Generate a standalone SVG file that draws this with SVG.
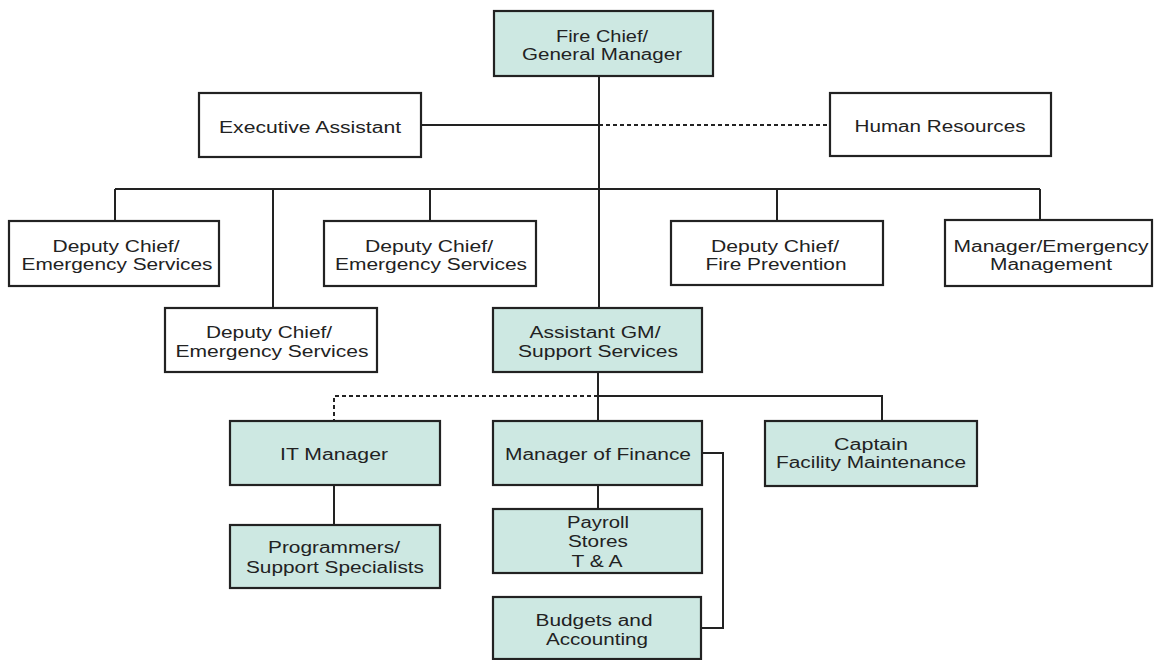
<svg xmlns="http://www.w3.org/2000/svg" width="1154" height="660" viewBox="0 0 1154 660">
<style>
.box{fill:#ffffff;stroke:#222;stroke-width:2.2}
.tl{fill:#cde8e2;stroke:#222;stroke-width:2.2}
text{font-family:"Liberation Sans",Arial,sans-serif;font-size:16px;fill:#222;text-anchor:middle}
.c line,.c path{stroke:#222;stroke-width:2;fill:none}
.c .d{stroke-dasharray:4 3}
</style>
<rect width="1154" height="660" fill="#ffffff"/>
<g class="c" id="connectors">
<line x1="599" y1="77" x2="599" y2="308"/>
<line x1="421" y1="125" x2="599" y2="125"/>
<line class="d" x1="599" y1="125" x2="830" y2="125"/>
<line x1="115" y1="189" x2="1040" y2="189"/>
<line x1="115" y1="189" x2="115" y2="221"/>
<line x1="273" y1="189" x2="273" y2="308"/>
<line x1="430" y1="189" x2="430" y2="221"/>
<line x1="777" y1="189" x2="777" y2="221"/>
<line x1="1040" y1="189" x2="1040" y2="220"/>
<line x1="598" y1="372" x2="598" y2="421"/>
<path class="d" d="M598 396 H334 V421"/>
<path d="M598 396 H882 V421"/>
<line x1="334" y1="485" x2="334" y2="525"/>
<line x1="598" y1="485" x2="598" y2="509"/>
<path d="M702 453 H723 V628 H701"/>
</g>
<g id="fire-chief"><rect class="tl" x="494" y="11" width="219" height="65"/>
<text x="602" y="42" textLength="92" lengthAdjust="spacingAndGlyphs">Fire Chief/</text>
<text x="602" y="60" textLength="160" lengthAdjust="spacingAndGlyphs">General Manager</text></g>
<g id="executive-assistant"><rect class="box" x="199" y="93" width="222" height="64"/>
<text x="310" y="133" textLength="182" lengthAdjust="spacingAndGlyphs">Executive Assistant</text></g>
<g id="human-resources"><rect class="box" x="830" y="93" width="221" height="63"/>
<text x="940" y="132" textLength="171" lengthAdjust="spacingAndGlyphs">Human Resources</text></g>
<g id="deputy-chief-1"><rect class="box" x="9" y="221" width="210" height="65"/>
<text x="116" y="252" textLength="127" lengthAdjust="spacingAndGlyphs">Deputy Chief/</text>
<text x="117" y="270" textLength="191" lengthAdjust="spacingAndGlyphs">Emergency Services</text></g>
<g id="deputy-chief-2"><rect class="box" x="324" y="221" width="212" height="65"/>
<text x="429" y="252" textLength="128" lengthAdjust="spacingAndGlyphs">Deputy Chief/</text>
<text x="431" y="270" textLength="192" lengthAdjust="spacingAndGlyphs">Emergency Services</text></g>
<g id="deputy-chief-fire-prevention"><rect class="box" x="671" y="221" width="212" height="64"/>
<text x="775" y="252" textLength="128" lengthAdjust="spacingAndGlyphs">Deputy Chief/</text>
<text x="776" y="270" textLength="141" lengthAdjust="spacingAndGlyphs">Fire Prevention</text></g>
<g id="manager-emergency-management"><rect class="box" x="945" y="220" width="207" height="66"/>
<text x="1051" y="252" textLength="195" lengthAdjust="spacingAndGlyphs">Manager/Emergency</text>
<text x="1051" y="270" textLength="122" lengthAdjust="spacingAndGlyphs">Management</text></g>
<g id="deputy-chief-3"><rect class="box" x="165" y="308" width="212" height="64"/>
<text x="269" y="338" textLength="126" lengthAdjust="spacingAndGlyphs">Deputy Chief/</text>
<text x="272" y="357" textLength="193" lengthAdjust="spacingAndGlyphs">Emergency Services</text></g>
<g id="assistant-gm"><rect class="tl" x="493" y="308" width="209" height="64"/>
<text x="595" y="338" textLength="131" lengthAdjust="spacingAndGlyphs">Assistant GM/</text>
<text x="598" y="357" textLength="160" lengthAdjust="spacingAndGlyphs">Support Services</text></g>
<g id="it-manager"><rect class="tl" x="230" y="421" width="210" height="64"/>
<text x="334" y="460" textLength="108" lengthAdjust="spacingAndGlyphs">IT Manager</text></g>
<g id="manager-of-finance"><rect class="tl" x="493" y="421" width="209" height="64"/>
<text x="598" y="460" textLength="186" lengthAdjust="spacingAndGlyphs">Manager of Finance</text></g>
<g id="captain"><rect class="tl" x="765" y="421" width="212" height="65"/>
<text x="871" y="450" textLength="74" lengthAdjust="spacingAndGlyphs">Captain</text>
<text x="871" y="468" textLength="190" lengthAdjust="spacingAndGlyphs">Facility Maintenance</text></g>
<g id="programmers"><rect class="tl" x="230" y="525" width="210" height="63"/>
<text x="334" y="553" textLength="132" lengthAdjust="spacingAndGlyphs">Programmers/</text>
<text x="335" y="573" textLength="178" lengthAdjust="spacingAndGlyphs">Support Specialists</text></g>
<g id="payroll"><rect class="tl" x="493" y="509" width="209" height="64"/>
<text x="598" y="528" textLength="62" lengthAdjust="spacingAndGlyphs">Payroll</text>
<text x="598" y="547" textLength="60" lengthAdjust="spacingAndGlyphs">Stores</text>
<text x="597" y="567" textLength="51" lengthAdjust="spacingAndGlyphs">T &amp; A</text></g>
<g id="budgets"><rect class="tl" x="493" y="597" width="208" height="62"/>
<text x="594" y="626" textLength="117" lengthAdjust="spacingAndGlyphs">Budgets and</text>
<text x="597" y="645" textLength="102" lengthAdjust="spacingAndGlyphs">Accounting</text></g>
</svg>
